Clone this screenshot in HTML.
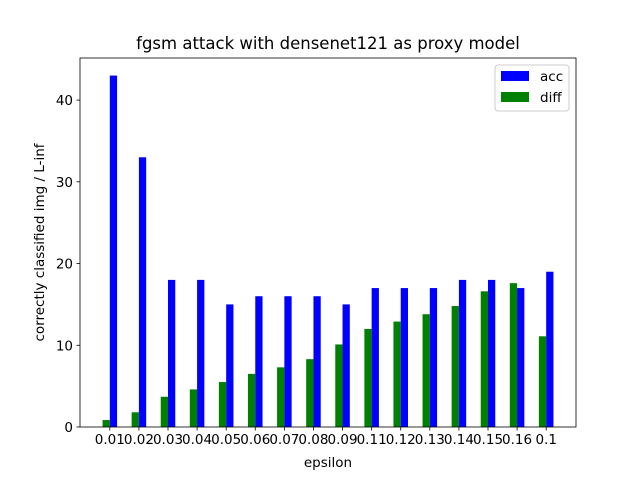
<!DOCTYPE html>
<html><head><meta charset="utf-8"><style>
body{margin:0;background:#fff;}
svg text{font-family:"DejaVu Sans","Liberation Sans",sans-serif;fill:#000;}
</style></head><body>
<svg id="chart" width="640" height="480" xmlns="http://www.w3.org/2000/svg">
<rect width="640" height="480" fill="#fff"/>
<g id="plot"></g>
</svg>
<script>
const categories=["0.01","0.02","0.03","0.04","0.05","0.06","0.07","0.08","0.09","0.11","0.12","0.13","0.14","0.15","0.16","0.1"];
const accValues=[43,33,18,18,15,16,16,16,15,17,17,17,18,18,17,19];
const diffValues=[0.85,1.8,3.7,4.6,5.5,6.5,7.3,8.3,10.1,12.0,12.9,13.8,14.8,16.6,17.6,11.1];
const yTicks=[0,10,20,30,40];

const svg=document.getElementById('plot');
const NS='http://www.w3.org/2000/svg';
const L=80,R=576,T=58,B=427;
const yMax=45.15;
const xMin=-1.025,xMax=categories.length-1+1.025;
const xs=v=>L+(v-xMin)/(xMax-xMin)*(R-L);
const ys=v=>B-v/yMax*(B-T);
function mk(tag,attrs,parent){const e=document.createElementNS(NS,tag);for(const k in attrs)e.setAttribute(k,attrs[k]);(parent||svg).appendChild(e);return e;}
const bw=0.25;
categories.forEach((c,i)=>{
  const d=mk('rect',{x:xs(i-bw),y:ys(diffValues[i]),width:xs(i)-xs(i-bw),height:B-ys(diffValues[i]),fill:'#008000'});
  
  
  const a=mk('rect',{x:xs(i),y:ys(accValues[i]),width:xs(i+bw)-xs(i),height:B-ys(accValues[i]),fill:'#0000ff'});
  
  
  mk('line',{x1:xs(i),x2:xs(i),y1:B,y2:B+3.5,stroke:'#000','stroke-width':0.8});
  const t=mk('text',{x:xs(i),y:B+17,'text-anchor':'middle','font-size':'13.5'});
  t.textContent=c;
  
  
});
yTicks.forEach(v=>{
  mk('line',{x1:L-3.5,x2:L,y1:ys(v),y2:ys(v),stroke:'#000','stroke-width':0.8});
  const t=mk('text',{x:L-7,y:ys(v)+5,'text-anchor':'end','font-size':'13.5'});
  t.textContent=v;
  
  
});
const frame=mk('rect',{x:L,y:T,width:R-L,height:B-T,fill:'none',stroke:'#000','stroke-width':0.8});


const title=mk('text',{x:(L+R)/2,y:49,'text-anchor':'middle','font-size':'16.5'});
title.textContent='fgsm attack with densenet121 as proxy model';


const xl=mk('text',{x:(L+R)/2,y:467,'text-anchor':'middle','font-size':'13.5'});
xl.textContent='epsilon';


const yl=mk('text',{x:0,y:0,'text-anchor':'middle','font-size':'13.5',transform:`translate(44,${(T+B)/2}) rotate(-90)`});
yl.textContent='correctly classified img / L-inf';


const lg=mk('g',{});


mk('rect',{x:495,y:65,width:74,height:46,fill:'#fff',stroke:'#ccc','stroke-width':1,rx:3},lg);
mk('rect',{x:501,y:71,width:28,height:10,fill:'#0000ff'},lg);
const t1=mk('text',{x:540,y:81,'font-size':'13.5'},lg);t1.textContent='acc';


mk('rect',{x:501,y:92,width:28,height:10,fill:'#008000'},lg);
const t2=mk('text',{x:540,y:102,'font-size':'13.5'},lg);t2.textContent='diff';


</script>
</body></html>
